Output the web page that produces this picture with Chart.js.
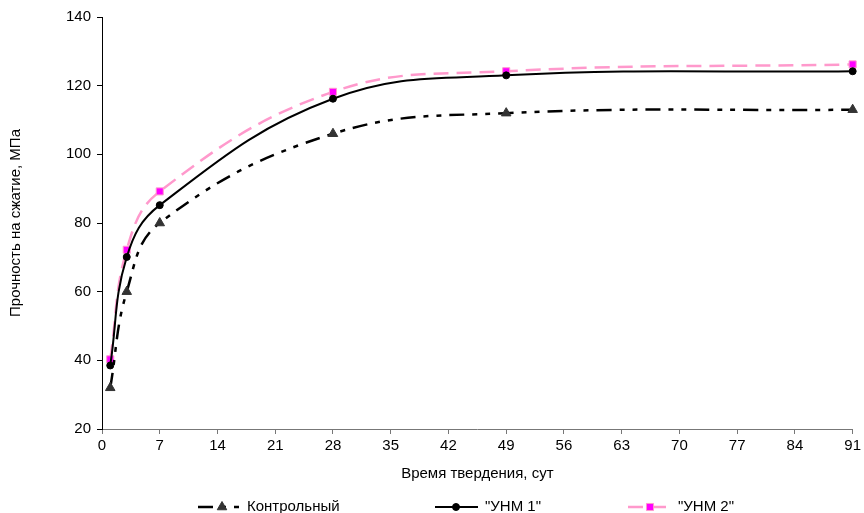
<!DOCTYPE html>
<html>
<head>
<meta charset="utf-8">
<script src="https://cdn.jsdelivr.net/npm/chart.js@4/dist/chart.umd.min.js"></script>
<style>
  html, body { margin: 0; padding: 0; background: #fff; }
  #wrap { width: 864px; height: 513px; }
</style>
</head>
<body>
<div id="wrap"><canvas id="chart" width="864" height="513"></canvas></div>
<script>
// curing time, days
const days = [1, 3, 7, 28, 49, 91];
// compressive strength, MPa
const control = [32, 60, 80, 106, 112, 113];
const unm1 = [38.5, 70.1, 85.2, 116.2, 123, 124.2];
const unm2 = [40.3, 72.2, 89.2, 118.2, 124.2, 126.2];
const seriesNames = ['Контрольный', '"УНМ 1"', '"УНМ 2"'];

const FONT = 'Liberation Sans, Arial, sans-serif';
const FSIZE = 15;
const toXY = ys => days.map((d, i) => ({ x: d, y: ys[i] }));

const styles = [
    { color: '#000', width: 2.5, dash: [15, 8, 5, 8, 5, 8], point: 'triangle', radius: 5.5, fill: '#333', border: '#333' },
    { color: '#000', width: 2, dash: [], point: 'circle', radius: 3.5, fill: '#000', border: '#000' },
    { color: '#ff99cc', width: 2.5, dash: [15, 8], point: 'rect', radius: 5, fill: '#ff00ff', border: '#ff99cc' },
];

const datasets = [control, unm1, unm2].map((ys, i) => ({
    label: seriesNames[i],
    data: toXY(ys),
    borderColor: styles[i].color,
    borderWidth: styles[i].width,
    borderDash: styles[i].dash,
    pointStyle: styles[i].point,
    pointRadius: styles[i].radius,
    pointBackgroundColor: styles[i].fill,
    pointBorderColor: styles[i].border,
    pointBorderWidth: 1,
    tension: 0.4,
    fill: false,
    clip: false,
}));

// legend drawn like the Excel one: line sample with marker, then text
const legendPlugin = {
    id: 'excelLegend',
    afterDraw(chart) {
        const ctx = chart.ctx;
        const y = 507;
        const items = [
            { x0: 198, x1: 241, mx: 222, tx: 247 },
            { x0: 435, x1: 478, mx: 456, tx: 485 },
            { x0: 628, x1: 668, mx: 650, tx: 678 },
        ];
        items.forEach((it, i) => {
            const s = styles[i];
            ctx.save();
            ctx.strokeStyle = s.color;
            ctx.lineWidth = s.width;
            ctx.setLineDash(s.dash);
            ctx.beginPath();
            ctx.moveTo(it.x0, y);
            ctx.lineTo(it.x1, y);
            ctx.stroke();
            ctx.setLineDash([]);
            ctx.fillStyle = s.fill;
            ctx.strokeStyle = s.border;
            ctx.lineWidth = 1;
            Chart.helpers.drawPoint(ctx, {
                pointStyle: s.point, radius: s.radius, borderWidth: 1, rotation: 0
            }, it.mx, y);
            ctx.fillStyle = '#000';
            ctx.font = FSIZE + 'px ' + FONT;
            ctx.textBaseline = 'middle';
            ctx.fillText(seriesNames[i], it.tx, y);
            ctx.restore();
        });
    }
};

new Chart(document.getElementById('chart'), {
    type: 'line',
    data: { datasets },
    plugins: [legendPlugin],
    options: {
        responsive: false,
        animation: false,
        layout: { padding: { top: 17, right: 11, left: 0, bottom: 27 } },
        plugins: { legend: { display: false }, tooltip: { enabled: false } },
        scales: {
            x: {
                type: 'linear',
                min: 0,
                max: 91,
                afterFit: s => { s.height = 57; },
                ticks: { stepSize: 7, color: '#000', padding: 3, maxRotation: 0, font: { family: FONT, size: FSIZE } },
                grid: { drawOnChartArea: false, tickLength: 5, tickColor: '#777' },
                border: { color: '#777', width: 1 },
                title: { display: true, text: 'Время твердения, сут', color: '#000', padding: { top: 4, bottom: 3 }, font: { family: FONT, size: FSIZE } },
            },
            y: {
                min: 20,
                max: 140,
                afterFit: s => { s.width = 102; },
                ticks: { stepSize: 20, color: '#000', padding: 6, font: { family: FONT, size: FSIZE } },
                grid: { drawOnChartArea: false, tickLength: 5, tickColor: '#000' },
                border: { color: '#000', width: 1 },
                title: { display: true, text: 'Прочность на сжатие, МПа', color: '#000', padding: { top: 7, bottom: 4 }, font: { family: FONT, size: FSIZE } },
            },
        },
    },
});
</script>
</body>
</html>
